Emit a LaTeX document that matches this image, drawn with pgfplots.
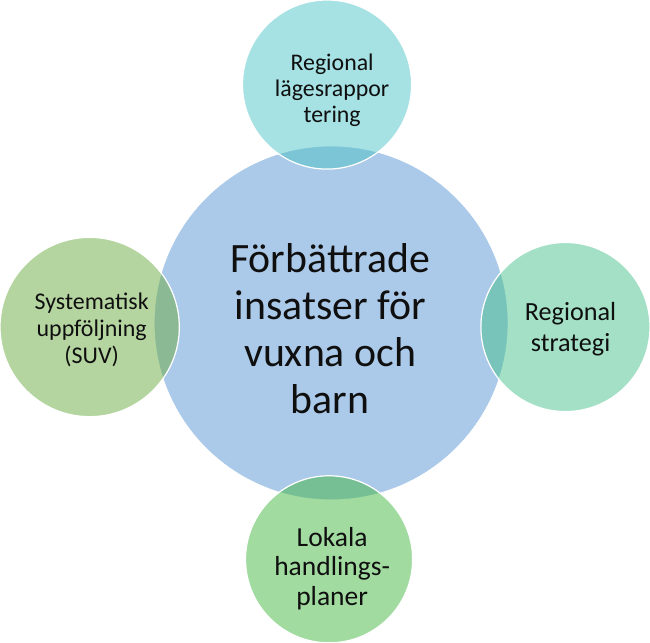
\documentclass[border=0pt]{standalone}
\usepackage{pgfplots}
\pgfplotsset{compat=1.18}
\usepackage{fontspec}
\setmainfont{Carlito}
\definecolor{cCenter}{RGB}{171,201,232}
\definecolor{cTop}{RGB}{77,195,199}
\definecolor{cRight}{RGB}{71,193,141}
\definecolor{cBottom}{RGB}{67,183,65}
\definecolor{cLeft}{RGB}{107,171,65}
\definecolor{txt}{RGB}{15,15,15}
\begin{document}
\begin{tikzpicture}
\begin{axis}[
  width=648pt, height=650pt, scale only axis,
  xmin=0, xmax=648, ymin=0, ymax=650,
  hide axis, clip=false,
]
% center circle (x, y from bottom), radius as mark size
\addplot[only marks, mark=*, mark size=173pt, color=cCenter,
  mark options={fill=cCenter, draw=cCenter}] coordinates {(335,324)};
% satellites
\addplot[only marks, mark=*, mark size=83pt, color=white,
  mark options={fill=cTop, fill opacity=0.5, draw=white, line width=1.2pt}] coordinates {(331,558)};
\addplot[only marks, mark=*, mark size=83pt, color=white,
  mark options={fill=cRight, fill opacity=0.5, draw=white, line width=1.2pt}] coordinates {(565,320)};
\addplot[only marks, mark=*, mark size=82pt, color=white,
  mark options={fill=cBottom, fill opacity=0.5, draw=white, line width=1.2pt}] coordinates {(333,92)};
\addplot[only marks, mark=*, mark size=88pt, color=white,
  mark options={fill=cLeft, fill opacity=0.5, draw=white, line width=1.2pt}] coordinates {(98,320)};
\coordinate (tC) at (axis cs:334,318.5);
\coordinate (tT) at (axis cs:336,552);
\coordinate (tR) at (axis cs:570,318);
\coordinate (tL) at (axis cs:100,317);
\coordinate (tB) at (axis cs:336,83);
\end{axis}
\node[align=center, text=txt, font=\fontsize{41}{46}\selectfont] at (tC)
  {Förbättrade\\insatser för\\vuxna och\\barn};
\node[align=center, text=txt, font=\fontsize{23.4}{25.5}\selectfont] at (tT)
  {Regional\\lägesrappor\\tering};
\node[align=center, text=txt, font=\fontsize{25.7}{30}\selectfont] at (tR)
  {Regional\\strategi};
\node[align=center, text=txt, font=\fontsize{23.5}{26.5}\selectfont] at (tL)
  {Systematisk\\uppföljning\\(SUV)};
\node[align=center, text=txt, font=\fontsize{27}{29}\selectfont] at (tB)
  {Lokala\\handlings-\\planer};
\end{tikzpicture}
\end{document}
